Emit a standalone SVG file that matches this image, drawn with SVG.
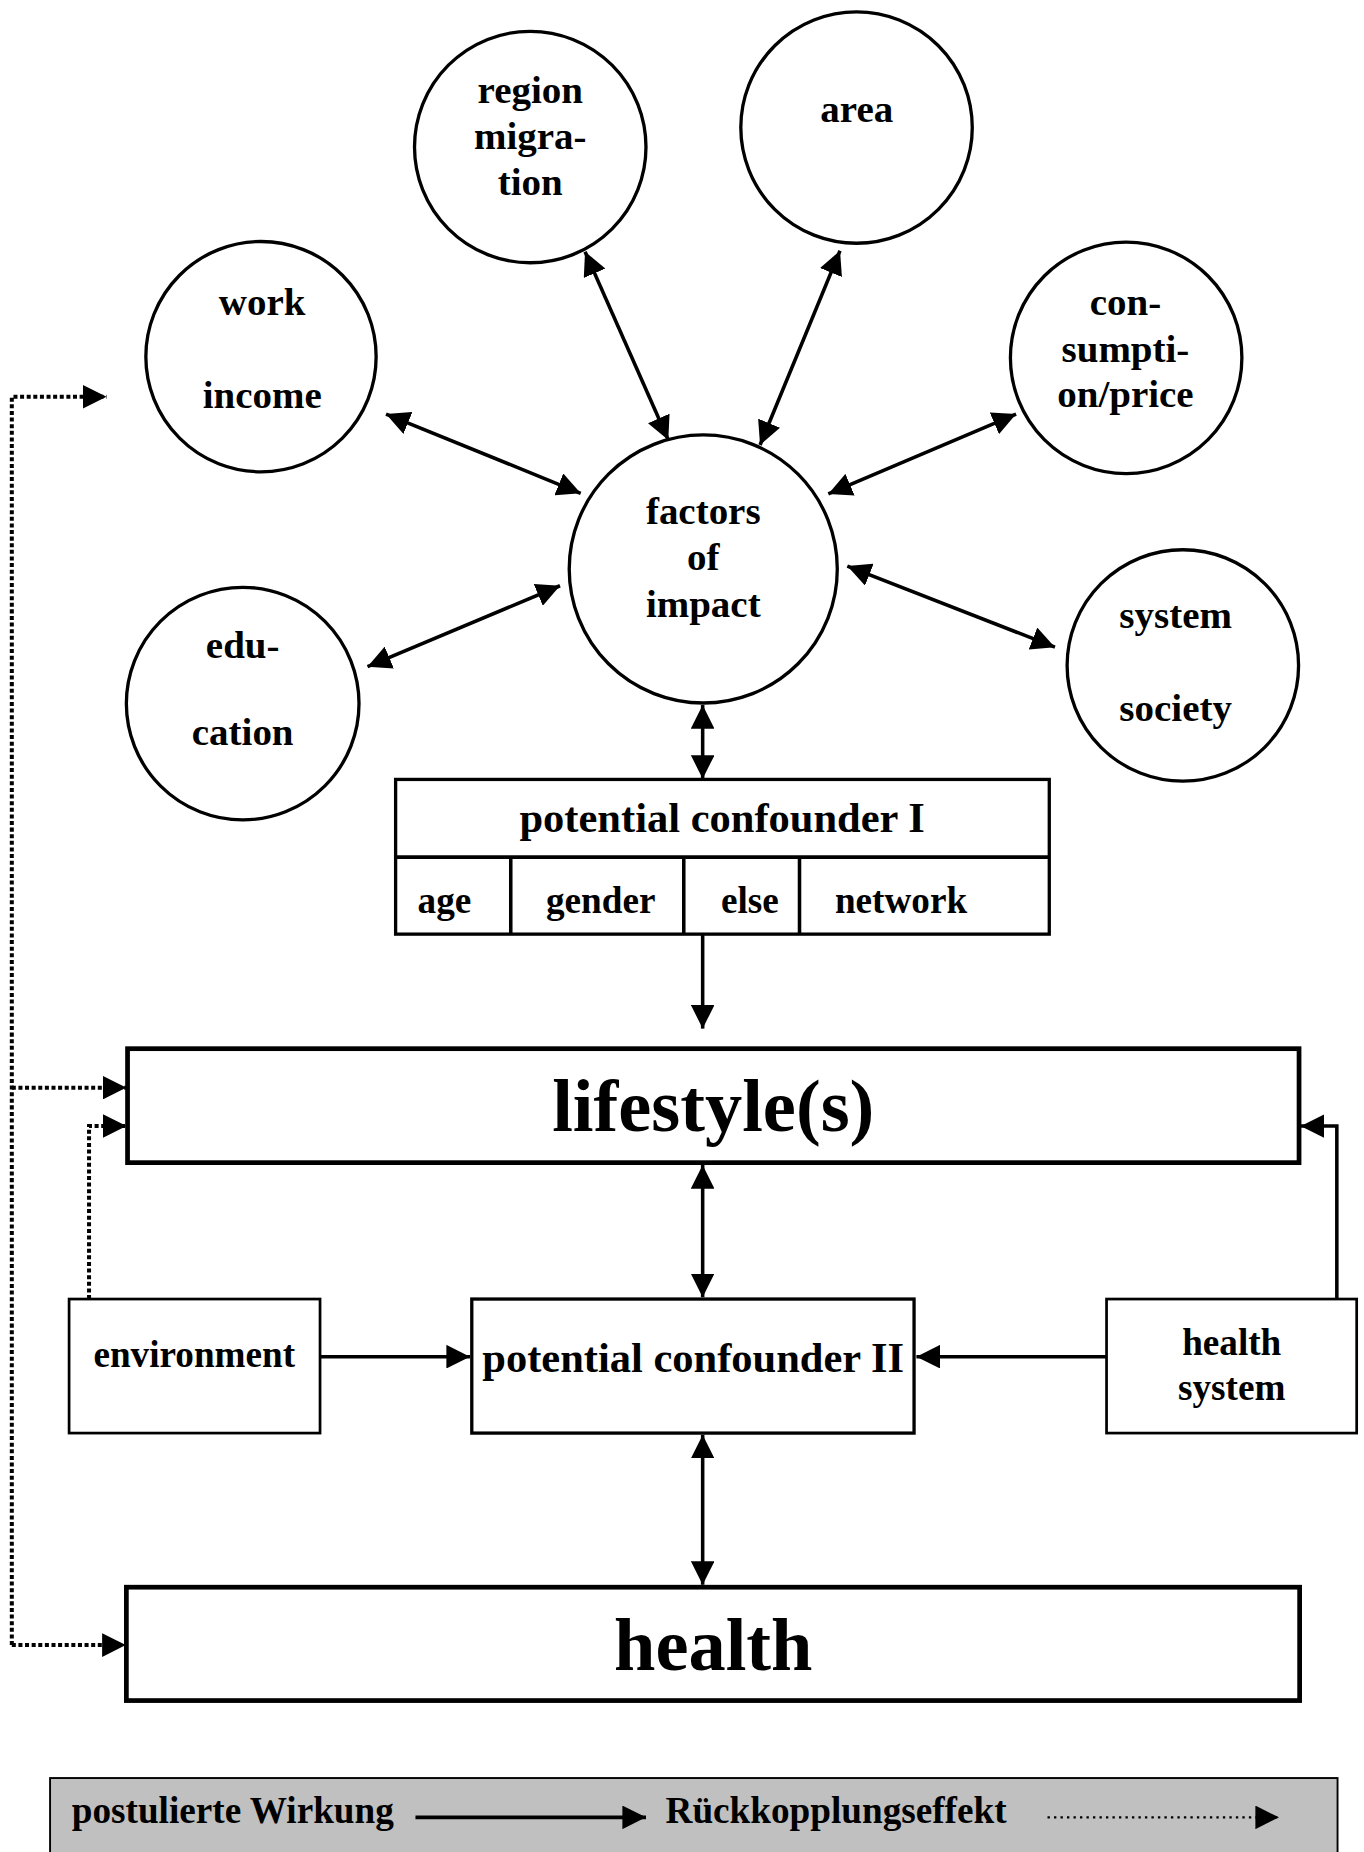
<svg xmlns="http://www.w3.org/2000/svg" width="1364" height="1852" viewBox="0 0 1364 1852">
<style>
text{font-family:"Liberation Serif","Times New Roman",serif;font-weight:bold;fill:#000}
.c{font-size:33px;text-anchor:middle}
.s{font-size:31.5px}
.m{text-anchor:middle}
.t{font-size:36px;text-anchor:middle}
.b{font-size:63px;text-anchor:middle}
.node{fill:#fff;stroke:#000}
.ln{fill:none;stroke:#000;stroke-width:3}
.dot{fill:none;stroke:#000;stroke-width:3.4;stroke-dasharray:3.4 2.2}
.fine{fill:none;stroke:#000;stroke-width:2;stroke-dasharray:2 3.5}
</style>
<defs>
<marker id="ah" viewBox="0 0 20 20" markerUnits="userSpaceOnUse" markerWidth="20" markerHeight="20" refX="20" refY="10" orient="auto-start-reverse">
<path d="M0,0 L20,10 L0,20 z" fill="#000"/>
</marker>
</defs>
<rect width="1364" height="1852" fill="#fff"/>
<g transform="scale(1.180952)">
<g id="region-migration"><circle class="node" cx="449" cy="124.5" r="98" stroke-width="2.8"/><text class="c" x="449" y="87.5">region</text><text class="c" x="449" y="126.5">migra-</text><text class="c" x="449" y="165">tion</text></g>
<g id="area"><circle class="node" cx="725.3" cy="108" r="98" stroke-width="2.8"/><text class="c" x="725.5" y="103">area</text></g>
<g id="work-income"><circle class="node" cx="221" cy="302" r="97.5" stroke-width="2.8"/><text class="c" x="222" y="266.7">work</text><text class="c" x="222" y="345.7">income</text></g>
<g id="consumption-price"><circle class="node" cx="953.6" cy="303" r="98" stroke-width="2.8"/><text class="c" x="953" y="266.7">con-</text><text class="c" x="953" y="306.3">sumpti-</text><text class="c" x="953" y="344.8">on/price</text></g>
<g id="factors-of-impact"><circle class="node" cx="595.5" cy="481.8" r="113.5" stroke-width="2.8"/><text class="c" x="595.5" y="443.7">factors</text><text class="c" x="595.5" y="482.7">of</text><text class="c" x="595.5" y="522.2">impact</text></g>
<g id="education"><circle class="node" cx="205.5" cy="595.8" r="98.5" stroke-width="2.8"/><text class="c" x="205.5" y="557.5">edu-</text><text class="c" x="205.5" y="630.8">cation</text></g>
<g id="system-society"><circle class="node" cx="1001.6" cy="563.5" r="98" stroke-width="2.8"/><text class="c" x="995.5" y="532">system</text><text class="c" x="995.5" y="610.2">society</text></g>
<g id="potential-confounder-I">
<rect class="node" x="335" y="660" width="553.5" height="131" stroke-width="2.8"/>
<line class="ln" x1="335" y1="725.8" x2="888.5" y2="725.8" stroke-width="2.8"/>
<line class="ln" x1="432.5" y1="725.8" x2="432.5" y2="791" stroke-width="2.8"/>
<line class="ln" x1="579" y1="725.8" x2="579" y2="791" stroke-width="2.8"/>
<line class="ln" x1="677" y1="725.8" x2="677" y2="791" stroke-width="2.8"/>
<text class="t" x="611.5" y="704.2">potential confounder I</text>
<text class="s" x="353.6" y="773.4">age</text>
<text class="s" x="462.3" y="773.4">gender</text>
<text class="s" x="610.5" y="773.4">else</text>
<text class="s" x="707" y="773.4">network</text>
</g>
<g id="lifestyles"><rect class="node" x="108" y="888" width="992" height="96.5" stroke-width="4"/><text class="b" x="604" y="958">lifestyle(s)</text></g>
<g id="environment"><rect class="node" x="58.5" y="1100" width="212.5" height="113.5" stroke-width="2.3"/><text class="s m" x="164.5" y="1157.3">environment</text></g>
<g id="potential-confounder-II"><rect class="node" x="399.5" y="1100" width="374.5" height="113.5" stroke-width="2.8"/><text class="t" x="587" y="1161.5">potential confounder II</text></g>
<g id="health-system"><rect class="node" x="937" y="1100" width="211.8" height="113.5" stroke-width="2.3"/><text class="s m" x="1043" y="1147.5">health</text><text class="s m" x="1043" y="1185.5">system</text></g>
<g id="health"><rect class="node" x="107" y="1344" width="993.5" height="96" stroke-width="4"/><text class="b" x="604" y="1414">health</text></g>
<g id="connectors">
<line class="ln" x1="326.9" y1="350.6" x2="491.7" y2="417.7" marker-start="url(#ah)" marker-end="url(#ah)"/>
<line class="ln" x1="495.4" y1="213.1" x2="565.9" y2="372.6" marker-start="url(#ah)" marker-end="url(#ah)"/>
<line class="ln" x1="711.3" y1="212.3" x2="643.6" y2="376.8" marker-start="url(#ah)" marker-end="url(#ah)"/>
<line class="ln" x1="860.4" y1="350.6" x2="701.4" y2="418.3" marker-start="url(#ah)" marker-end="url(#ah)"/>
<line class="ln" x1="311.2" y1="564.5" x2="474.2" y2="496" marker-start="url(#ah)" marker-end="url(#ah)"/>
<line class="ln" x1="717.5" y1="479.3" x2="893.3" y2="548" marker-start="url(#ah)" marker-end="url(#ah)"/>
<line class="ln" x1="595" y1="597" x2="595" y2="659.5" marker-start="url(#ah)" marker-end="url(#ah)"/>
<line class="ln" x1="595" y1="791" x2="595" y2="871" marker-end="url(#ah)"/>
<line class="ln" x1="595" y1="986.5" x2="595" y2="1098.5" marker-start="url(#ah)" marker-end="url(#ah)"/>
<line class="ln" x1="595" y1="1215" x2="595" y2="1342" marker-start="url(#ah)" marker-end="url(#ah)"/>
<line class="ln" x1="271" y1="1148.8" x2="398" y2="1148.8" marker-end="url(#ah)"/>
<line class="ln" x1="937" y1="1148.8" x2="776" y2="1148.8" marker-end="url(#ah)"/>
<path class="ln" d="M1132,1100 V953.5 H1101.5" marker-end="url(#ah)"/>
<path class="dot" d="M10,1393 V336 H90.2" marker-end="url(#ah)"/>
<path class="dot" d="M10,921 H107" marker-end="url(#ah)"/>
<path class="dot" d="M10,1393 H106.5" marker-end="url(#ah)"/>
<path class="dot" d="M75.4,1100 V953.5 H107" marker-end="url(#ah)"/>
</g>
<g id="legend">
<rect x="42.4" y="1505.6" width="1090.2" height="90" fill="#c0c0c0" stroke="#000" stroke-width="1.6"/>
<text class="s" x="60.8" y="1544">postulierte Wirkung</text>
<line class="ln" x1="351.8" y1="1538.9" x2="547" y2="1538.9" marker-end="url(#ah)"/>
<text class="s" x="563.6" y="1544">Rückkopplungseffekt</text>
<line class="fine" x1="887" y1="1538.9" x2="1083" y2="1538.9" marker-end="url(#ah)"/>
</g>
</g>
</svg>
